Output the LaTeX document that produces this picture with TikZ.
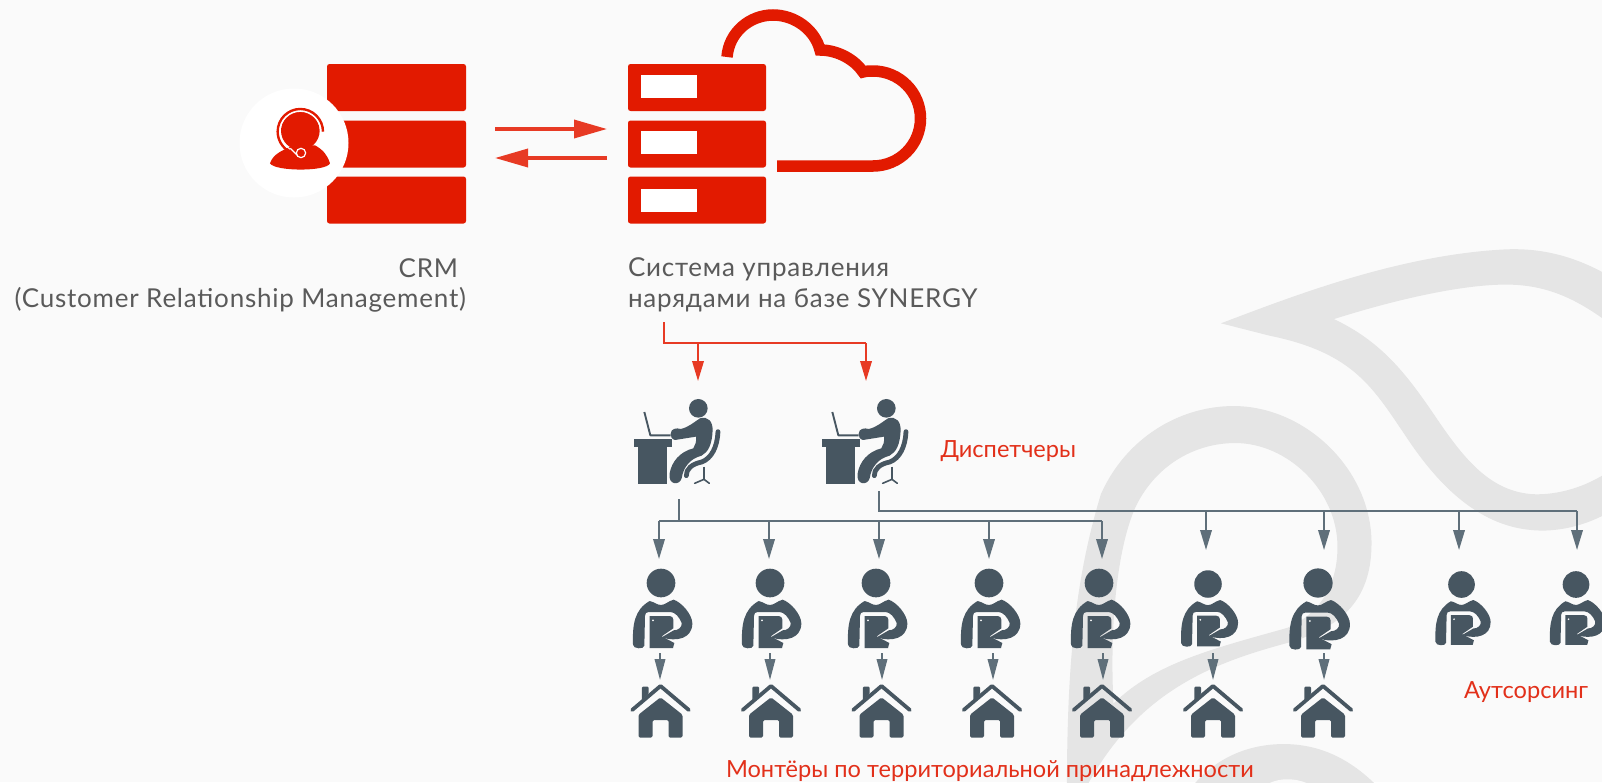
\documentclass[tikz,border=0pt]{standalone}
\usepackage{fontspec}
\setmainfont{Lato}
\newfontfamily\grayfont[LetterSpace=3]{Lato}
\usetikzlibrary{arrows.meta,calc}
\definecolor{bgc}{HTML}{FAFAFA}
\definecolor{wm}{HTML}{E5E5E5}
\definecolor{srv}{HTML}{E21A00}
\definecolor{arred}{HTML}{E73A24}
\definecolor{arg}{HTML}{5F6F7A}
\definecolor{ico}{HTML}{475661}
\definecolor{txt}{HTML}{5A5A5A}
\definecolor{txtred}{HTML}{E2301A}
\tikzset{
 srvbox/.style={fill=srv,minimum width=#1,minimum height=47pt,rounded corners=2.5pt,inner sep=0pt,outer sep=0pt},
 slot/.style={fill=white,minimum width=56pt,minimum height=23pt,inner sep=0pt,outer sep=0pt},
 bigred/.style={draw=arred,line width=3.5pt,-{Triangle[length=33pt,width=18pt,fill=arred]}},
 redline/.style={draw=arred,line width=2pt},
 redarr/.style={redline,-{Triangle[length=20pt,width=11.5pt]}},
 grayline/.style={draw=arg,line width=2pt},
 grayarr/.style={grayline,-{Triangle[length=20pt,width=11.5pt]}},
 smallarr/.style={grayline,-{Triangle[length=21pt,width=10.5pt]}},
 lab/.style={text=txt,font=\grayfont\fontsize{26}{26}\selectfont,inner sep=0pt,outer sep=0pt},
 redlab/.style={text=txtred,font=\fontsize{23.6}{24}\selectfont,inner sep=0pt,outer sep=0pt},
 worker/.pic={
  \begin{scope}[x=0.3333pt,y=-0.3333pt,fill=ico]
   \fill (0,0) circle [radius=43];
   \fill (-84,185) .. controls (-86,125) and (-80,80) .. (-34,54) .. controls (-20,57) and (-12,66) .. (0,66)
     .. controls (12,66) and (22,54) .. (38,50) .. controls (62,58) and (94,95) .. (94,121)
     .. controls (94,165) and (50,178) .. (2,163) -- (38,142) .. controls (52,142) and (64,132) .. (62,120)
     .. controls (55,102) and (42,87) .. (28,87) -- (-37,87) .. controls (-44,87) and (-48,91) .. (-48,98)
     -- (-50,188) .. controls (-50,199) and (-84,199) .. (-84,185) -- cycle;
   \fill (-34,99) -- (26,99) .. controls (33,99) and (37,104) .. (37,110) -- (37,136) -- (2,160) -- (40,180) -- (36,195) -- (-34,195) -- cycle;
   \fill[bgc] (-24,112) circle [radius=3];
  \end{scope}},
 house/.pic={
  \begin{scope}[x=0.3333pt,y=-0.3333pt]
   \draw[ico,line width=3.8pt,line cap=round,line join=round] (-85,78) -- (0,6) -- (85,78);
   \fill[ico,rounded corners=1pt] (-56,8) -- (-36,8) -- (-36,30) -- (-56,48) -- cycle;
   \fill[ico,rounded corners=1.5pt] (0,40) -- (66,92) -- (66,161) -- (24,161) -- (24,108) -- (-24,108) -- (-24,161) -- (-66,161) -- (-66,92) -- cycle;
  \end{scope}},
 desker/.pic={
  \begin{scope}[x=0.3333pt,y=-0.3333pt]
   \fill[ico] (295,295) circle [radius=28];
   \draw[ico,line width=1.9pt,line join=round] (133,306) -- (151,376) -- (212,376);
   \fill[ico] (102,388) rectangle (215,412);
   \fill[ico] (115,412) rectangle (202,523);
   \fill[ico] (212,372) .. controls (212,355) and (230,353) .. (242,357) .. controls (265,352) and (280,338) .. (300,325)
     .. controls (325,318) and (338,335) .. (338,360) .. controls (336,405) and (325,425) .. (305,437)
     .. controls (272,445) and (250,470) .. (245,505) .. controls (238,528) and (203,525) .. (209,490)
     .. controls (215,455) and (240,425) .. (280,415) .. controls (286,405) and (290,395) .. (288,380) -- (225,390) .. controls (215,388) and (212,380) .. (212,372) -- cycle;
   \draw[ico,line width=4.8pt,line cap=round] (354,365) .. controls (352,410) and (335,445) .. (305,456) .. controls (275,462) and (258,478) .. (259,497);
   \draw[ico,line width=1.6pt] (312,470) -- (312,508);
   \draw[ico,line width=1.6pt,line cap=round] (284,520) -- (312,508) -- (328,520);
  \end{scope}},
 agent/.pic={
  \begin{scope}[x=0.3333pt,y=-0.3333pt]
   \fill[srv] (241,392) circle [radius=58];
   \fill[srv] (150,490) .. controls (160,460) and (190,452) .. (205,442) -- (285,436) .. controls (310,450) and (322,465) .. (330,490) .. controls (320,515) and (165,515) .. (150,490) -- cycle;
   \draw[srv,line width=2.4pt] (309,395) arc [start angle=0,end angle=-240,radius=68];
   \draw[white,line width=1.1pt] (302,395) arc [start angle=0,end angle=-240,radius=61];
   \draw[white,line width=1.1pt] (211,445) -- (232,466);
   \fill[srv,draw=white,line width=1.2pt] (243,459) circle [radius=14];
  \end{scope}}
}
\begin{document}
\begin{tikzpicture}[x=1pt,y=-1pt]
\useasboundingbox (0,0) rectangle (1602,782);
\fill[bgc] (0,0) rectangle (1602,782);
% watermark
\begin{scope}
\clip (0,0) rectangle (1602,782);
\begin{scope}[shift={(1040,230)},x=0.3584pt,y=-0.3521pt]
 \fill[wm,even odd rule] (505,265) .. controls (700,190) and (1000,70) .. (1300,55) .. controls (1420,50) and (1520,85) .. (1620,150)
   -- (1620,780) .. controls (1540,840) and (1440,860) .. (1370,852) .. controls (1240,840) and (1130,750) .. (1030,600)
   .. controls (930,450) and (880,350) .. (640,300) -- cycle
   (820,253) .. controls (1000,195) and (1180,155) .. (1300,155) .. controls (1420,155) and (1510,200) .. (1620,290)
   -- (1620,660) .. controls (1540,730) and (1440,755) .. (1370,750) .. controls (1260,740) and (1190,660) .. (1110,540)
   .. controls (1030,420) and (960,320) .. (820,253) -- cycle;
 \fill[wm,even odd rule] (75,1600) .. controls (75,1250) and (95,1000) .. (170,750) .. controls (240,590) and (390,500) .. (540,500)
   .. controls (740,500) and (925,680) .. (925,890) .. controls (925,1060) and (830,1130) .. (700,1170)
   .. controls (500,1225) and (270,1300) .. (120,1600) -- cycle
   (545,605) .. controls (430,605) and (320,670) .. (265,790) .. controls (210,920) and (195,1150) .. (205,1345)
   .. controls (320,1230) and (480,1190) .. (690,1130) .. controls (780,1090) and (830,1010) .. (830,900)
   .. controls (830,740) and (690,605) .. (545,605) -- cycle;
 \fill[wm] (410,1600) .. controls (480,1500) and (580,1460) .. (680,1460) .. controls (790,1460) and (880,1510) .. (960,1600) -- cycle;
 \fill[bgc] (600,1600) .. controls (630,1570) and (660,1560) .. (690,1560) .. controls (730,1560) and (760,1575) .. (790,1600) -- cycle;
\end{scope}
\end{scope}
% CRM servers
\node[srvbox=139pt] (c1) at (396.5,87.5) {};
\node[srvbox=139pt] (c2) at (396.5,144) {};
\node[srvbox=139pt] (c3) at (396.5,200) {};
\fill[white] (294,143) circle [radius=54.5];
\pic at (220,0) {agent};
% Synergy servers
\node[srvbox=138pt] (s1) at (697,87.5) {};
\node[srvbox=138pt] (s2) at (697,144) {};
\node[srvbox=138pt] (s3) at (697,200) {};
\node[slot] (p1) at (669,86.5) {};
\node[slot] (p2) at (669,142.5) {};
\node[slot] (p3) at (669,200) {};
% cloud
\draw[srv,line width=11.5pt] (727,57) .. controls (729,32) and (750,15) .. (773,15) .. controls (795,15) and (815,30) .. (820,50)
  .. controls (838,50) and (855,60) .. (863,72) .. controls (866,71) and (870,71) .. (873,71)
  arc [start angle=-90,end angle=90,radius=47.5] -- (777,166);
% top arrows
\coordinate (ta) at (495,129); \coordinate (tb) at (607,129);
\coordinate (ua) at (607,158); \coordinate (ub) at (495,158);
\draw[bigred] (ta) -- (tb);
\draw[bigred] (ua) -- (ub);
% labels
\node[lab,anchor=base east] (crm) at (458,277) {CRM};
\node[lab,anchor=base east] (crm2) at (466,307.5) {(Customer Relationship Management)};
\node[lab,anchor=base west] (sys1) at (628,276.5) {Система управления};
\node[lab,anchor=base west] (sys2) at (628,307.5) {нарядами на базе SYNERGY};
\node[redlab,anchor=base west] (ld) at (940.5,457) {Диспетчеры};
\node[redlab,anchor=base west] (lo) at (1464,698) {Аутсорсинг};
\node[redlab,anchor=base west] (lm) at (726,777.5) {Монтёры по территориальной принадлежности};
% red connector
\coordinate (r0) at (664,322); \coordinate (r1) at (664,343); \coordinate (r2) at (866,343);
\coordinate (r3) at (698,343);
\coordinate (d1) at (698,381); \coordinate (d2) at (866,381);
\draw[redline] (r0) -- (r1) -- (r2);
\draw[redarr] (r3) -- (d1);
\draw[redarr] (r2) -- (d2);
% dispatchers
\pic at (600,310) {desker};
\pic at (788,310) {desker};
% gray trunks
\coordinate (g0) at (679,499); \coordinate (g1) at (679,521);
\coordinate (k0) at (879,491); \coordinate (k1) at (879,511);
\draw[grayline] (g0) -- (g1);
\draw[grayline] (k0) -- (k1) -- (1577,511);
\draw[grayline] (659,521) -- (1102,521);
\foreach \n/\x in {1/659,2/769,3/879,4/989,5/1102}{
  \coordinate (ga\n) at (\x,521);
  \coordinate (gb\n) at (\x,559);
  \draw[grayarr] (ga\n) -- (gb\n);
}
\foreach \n/\x in {6/1206,7/1324,8/1459,9/1577}{
  \coordinate (ga\n) at (\x,511);
  \coordinate (gb\n) at (\x,550);
  \draw[grayarr] (ga\n) -- (gb\n);
}
% workers
\begin{scope}
\clip (0,0) rectangle (1602,782);
\foreach \x/\y/\s in {661/583/1,770/583/1,876/583/1,989/583/1,1099/583/1,1208/584/0.96,1318/583/1.02,1461.5/584.5/0.93,1576/584.5/0.93}{
  \pic[scale=\s] at (\x,\y) {worker};
}
\end{scope}
% houses and small arrows
\foreach \n/\a/\h in {1/660/660.5,2/770/771,3/882/881.5,4/993/992,5/1103/1102,6/1213/1213,7/1324/1323}{
  \coordinate (sa\n) at (\a,653);
  \coordinate (sb\n) at (\a,680);
  \draw[smallarr] (sa\n) -- (sb\n);
  \pic at (\h,684) {house};
}
\end{tikzpicture}
\end{document}
